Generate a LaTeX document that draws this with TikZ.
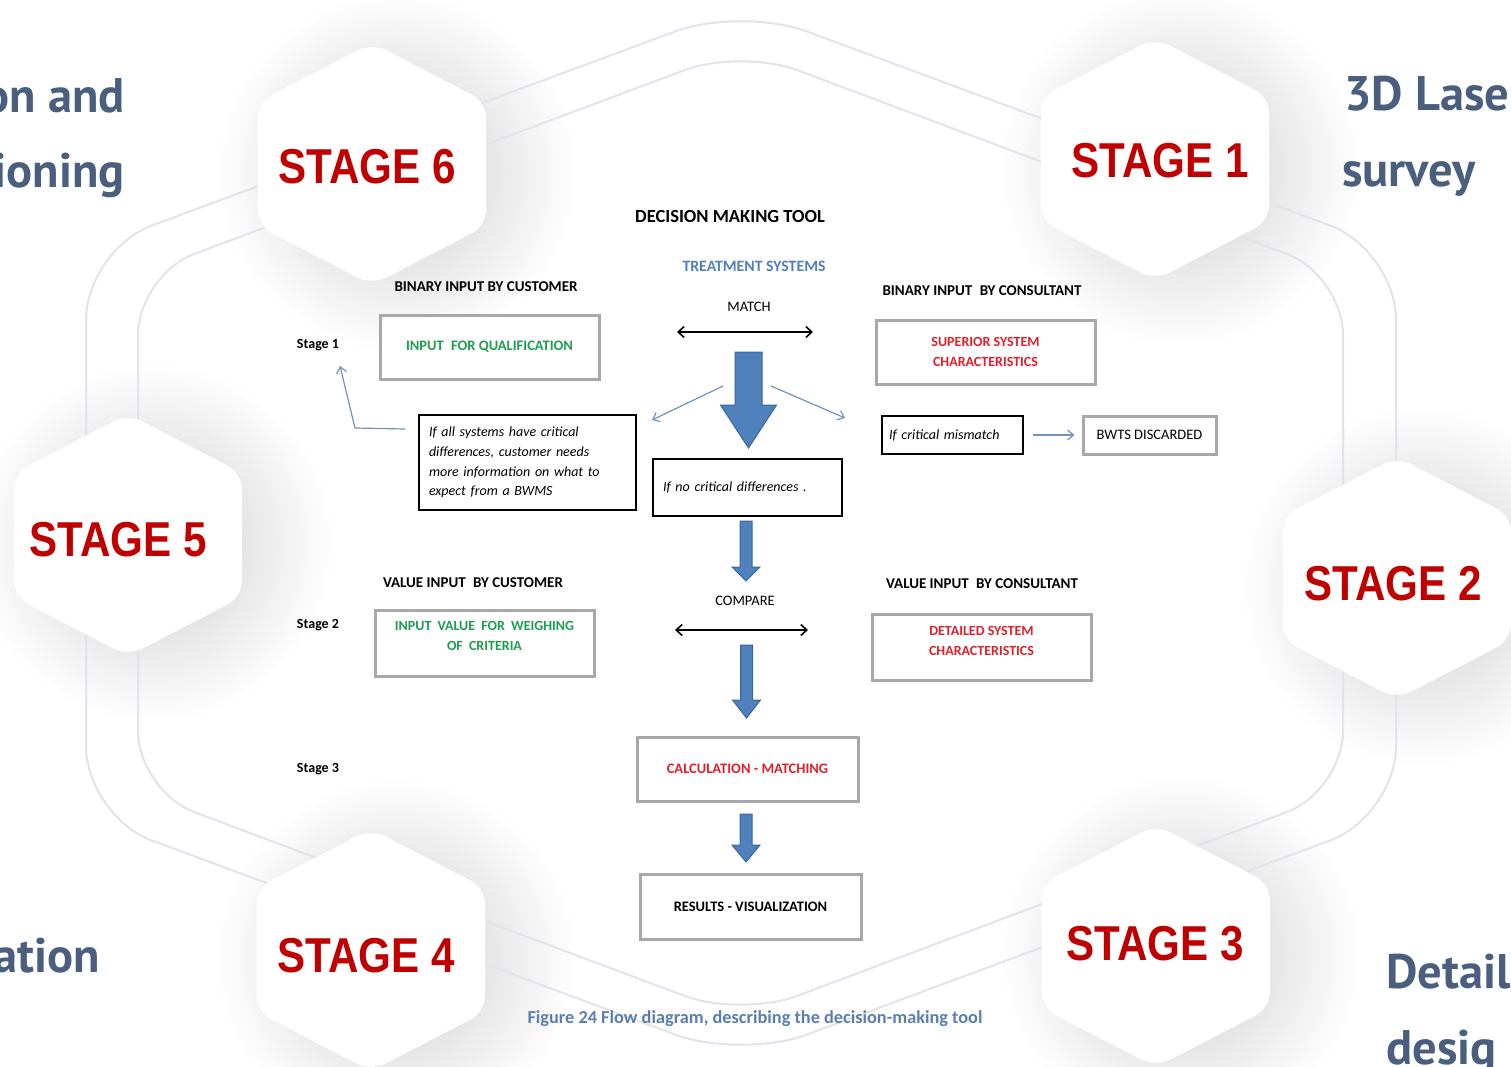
\documentclass[tikz,border=0pt]{standalone}
\usepackage{fontspec}
\setmainfont{Carlito}
\newfontfamily\stagefont[FakeStretch=0.86]{Liberation Sans}
\newfontfamily\sidefont{PT Sans}
\usetikzlibrary{arrows.meta,fadings,calc}
\definecolor{stagered}{HTML}{C00000}
\definecolor{sidecol}{HTML}{4A5F7E}
\definecolor{hexline}{HTML}{E1E4EB}
\definecolor{arrowblue}{HTML}{4F81BD}
\definecolor{arrowedge}{HTML}{3A659A}
\definecolor{thinblue}{HTML}{7393BD}
\definecolor{boxgray}{HTML}{A8A8A8}
\definecolor{txtgreen}{HTML}{1E9E50}
\definecolor{txtred}{HTML}{E0202A}
\definecolor{capblue}{HTML}{5B7EAF}
\definecolor{tsblue}{HTML}{4F81BD}
\tikzfading[name=softglow, inner color=transparent!0, outer color=transparent!100]
\newcommand\blkarr[6]{%
  \filldraw[fill=arrowblue, draw=arrowedge, line width=1pt, line join=miter]
    ({#1-#3},#2) -- ({#1+#3},#2) -- ({#1+#3},#4) -- ({#1+#5},#4) -- (#1,#6)
    -- ({#1-#5},#4) -- ({#1-#3},#4) -- cycle;}
\tikzset{
  stageglow/.pic={\fill[black, opacity=0.2, path fading=softglow] (25,8) circle (180);},
  stagehex/.pic={\fill[white, rounded corners=16pt]
      (-114,0) -- (-114,62) -- (0,121) -- (114,62) -- (114,-62) -- (0,-121) -- (-114,-62) -- cycle;},
  stagetxt/.style={inner sep=0, text=stagered, font=\fontsize{49}{55}\selectfont\stagefont\bfseries},
  sidetxt/.style={inner sep=0, text=sidecol, font=\fontsize{48.5}{52}\selectfont\sidefont\bfseries},
  lblb/.style={inner sep=0, font=\fontsize{15}{17}\selectfont\bfseries},
  lblr/.style={inner sep=0, font=\fontsize{14.5}{17}\selectfont},
  stg/.style={inner sep=0, font=\fontsize{14}{17}\selectfont\bfseries},
  graybox/.style={draw=boxgray, line width=3pt, fill=white, inner sep=0, align=center,
                  font=\fontsize{14.5}{20}\selectfont\bfseries},
  thinbox/.style={draw=black, line width=1.2pt, fill=white, align=left,
                  font=\fontsize{14}{19.7}\selectfont\itshape},
  dblarrow/.style={line width=1.6pt, {Straight Barb[length=6pt,width=11pt]}-{Straight Barb[length=6pt,width=11pt]}},
  thinarrow/.style={draw=thinblue, line width=1.2pt, -{Straight Barb[length=6pt,width=10pt]}}
}
\begin{document}
\begin{tikzpicture}[x=1pt,y=-1pt]
\useasboundingbox (0,0) rectangle (1511,1067);
\clip (0,0) rectangle (1511,1067);
\fill[white] (0,0) rectangle (1511,1067);

% soft shadows behind the stage hexagons
\pic at (372,164) {stageglow};
\pic at (1155,159) {stageglow};
\pic at (128,535) {stageglow};
\pic at (1397,578) {stageglow};
\pic at (371,950) {stageglow};
\pic at (1156,946) {stageglow};

% large background hexagon outlines
\draw[hexline, line width=2pt, rounded corners=70pt]
  (86,533) -- (86,250) -- (741,7) -- (1396,250) -- (1396,816) -- (741,1059) -- (86,816) -- cycle;
\draw[hexline, line width=2pt, rounded corners=60pt]
  (138,533) -- (138,275) -- (741,49) -- (1343,275) -- (1343,791) -- (741,1017) -- (138,791) -- cycle;

% side texts (cut by the picture edge, as in the reference)
\node[sidetxt, anchor=base east] (tl1) at (125,113) {on and};
\node[sidetxt, anchor=base east] (tl2) at (125,188) {ioning};
\node[sidetxt, anchor=base east] (bl1) at (100,972) {ation};
\node[sidetxt, anchor=base west] (tr1) at (1344,111) {3D Lase};
\node[sidetxt, anchor=base west] (tr2) at (1342,187) {survey};
\node[sidetxt, anchor=base west] (br1) at (1386,988) {Detail};
\node[sidetxt, anchor=base west] (br2) at (1386,1064) {desig};

% stage hexagons
\pic at (372,164) {stagehex};
\pic at (1155,159) {stagehex};
\pic at (128,535) {stagehex};
\pic at (1397,578) {stagehex};
\pic at (371,950) {stagehex};
\pic at (1156,946) {stagehex};
\node[stagetxt] (s6) at (367,167) {STAGE 6};
\node[stagetxt] (s1) at (1160,161) {STAGE 1};
\node[stagetxt] (s5) at (118,540) {STAGE 5};
\node[stagetxt] (s2) at (1393,584) {STAGE 2};
\node[stagetxt] (s4) at (366,956) {STAGE 4};
\node[stagetxt] (s3) at (1155,944) {STAGE 3};

% ---------- flow diagram ----------
\node[inner sep=0, font=\fontsize{18.5}{20}\selectfont\bfseries] (title) at (730,216) {DECISION MAKING TOOL};
\node[inner sep=0, text=tsblue, font=\fontsize{15.8}{17}\selectfont\bfseries] (ts) at (754,266) {TREATMENT SYSTEMS};
\node[lblb] (bic) at (486,287) {BINARY INPUT BY CUSTOMER};
\node[lblb] (bicons) at (982,291) {BINARY INPUT\hspace{4pt} BY CONSULTANT};
\node[lblr] (match) at (749,307) {MATCH};
\coordinate (mL) at (677,332);
\coordinate (mR) at (813,332);
\draw[dblarrow] (mL) -- (mR);

\node[stg] (st1) at (318,345) {Stage 1};
\node[graybox, minimum width=219pt, minimum height=64pt, text=txtgreen] (qual) at (489.5,347) {INPUT\hspace{4pt} FOR QUALIFICATION};
\node[graybox, minimum width=219pt, minimum height=64pt, text=txtred, font=\fontsize{14}{20}\selectfont\bfseries] (sup) at (985.5,352) {SUPERIOR SYSTEM\\CHARACTERISTICS};

\blkarr{748.5}{352}{13.5}{405}{28}{448}
\coordinate (dl1) at (723,386);
\coordinate (dl2) at (652,420);
\coordinate (dr1) at (771,386);
\coordinate (dr2) at (845,418);
\draw[thinarrow] (dl1) -- (dl2);
\draw[thinarrow] (dr1) -- (dr2);

\node[thinbox, minimum width=217pt, minimum height=95pt, text width=197pt, inner xsep=10pt, inner ysep=0pt] (allsys) at (527.5,462.5)
  {If all systems have critical\\differences, customer needs\\more information on what to\\expect from a BWMS};
\node[thinbox, minimum width=189pt, minimum height=57pt, text width=169pt, inner xsep=10pt, inner ysep=0pt] (nocrit) at (747.5,487.5)
  {If no critical differences .};
\node[thinbox, minimum width=141pt, minimum height=38pt, text width=127pt, inner xsep=7pt, inner ysep=0pt] (mismatch) at (952.5,435) {If critical mismatch};
\node[graybox, minimum width=133pt, minimum height=38pt, font=\fontsize{14.5}{17}\selectfont] (discard) at (1149.5,435) {BWTS DISCARDED};
\draw[thinarrow, shorten <=9pt, shorten >=7pt] (mismatch.east) -- (discard.west);

\coordinate (fb1) at (405,429);
\coordinate (fb2) at (355,428);
\coordinate (fb3) at (340,366);
\draw[thinarrow] (fb1) -- (fb2) -- (fb3);

\blkarr{746}{521}{6}{567}{14}{581}

\node[lblb] (vic) at (473,583) {VALUE INPUT\hspace{4pt} BY CUSTOMER};
\node[lblb] (vicons) at (982,584) {VALUE INPUT\hspace{4pt} BY CONSULTANT};
\node[lblr] (compare) at (745,601) {COMPARE};
\coordinate (cL) at (675,630);
\coordinate (cR) at (808,630);
\draw[dblarrow] (cL) -- (cR);

\node[stg] (st2) at (318,625) {Stage 2};
\node[graybox, minimum width=219pt, minimum height=66pt] (weigh) at (484.5,643) {};
\node[inner sep=0, align=center, text=txtgreen, font=\fontsize{14}{20}\selectfont\bfseries] (weightxt) at (484.5,636)
  {INPUT\hspace{3pt} VALUE\hspace{3pt} FOR\hspace{3pt} WEIGHING\\OF\hspace{3pt} CRITERIA};
\node[graybox, minimum width=219pt, minimum height=66pt] (detail) at (981.5,647) {};
\node[inner sep=0, align=center, text=txtred, font=\fontsize{14}{20}\selectfont\bfseries] (detailtxt) at (981.5,641)
  {DETAILED SYSTEM\\CHARACTERISTICS};

\blkarr{746.5}{645}{6}{700}{14}{718}

\node[stg] (st3) at (318,769) {Stage 3};
\node[graybox, minimum width=221pt, minimum height=64pt, text=txtred] (calc) at (747.5,769) {CALCULATION - MATCHING};

\blkarr{746}{814}{6}{845}{14}{862}

\node[graybox, minimum width=221pt, minimum height=65pt] (results) at (750.5,906.5) {RESULTS - VISUALIZATION};

\node[inner sep=0, text=capblue, font=\fontsize{18.3}{20}\selectfont\bfseries] (caption) at (755,1019)
  {Figure 24 Flow diagram, describing the decision-making tool};
\end{tikzpicture}
\end{document}
